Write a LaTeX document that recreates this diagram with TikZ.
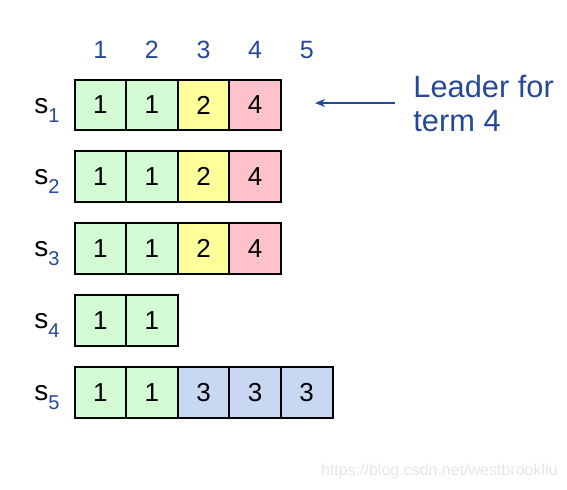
\documentclass[tikz,border=0pt]{standalone}
\usepackage{fontspec}
\setmainfont{Liberation Sans}
\usetikzlibrary{arrows.meta,positioning}
\definecolor{fGreen}{RGB}{212,252,212}
\definecolor{fYellow}{RGB}{255,255,153}
\definecolor{fPink}{RGB}{255,194,204}
\definecolor{fBlue}{RGB}{201,216,242}
\definecolor{dBlue}{RGB}{38,72,152}
\begin{document}
\begin{tikzpicture}[x=0.5pt,y=-0.5pt,
  cell/.style={draw,line width=1pt,minimum width=25.8pt,minimum height=25.4pt,inner sep=0pt,outer sep=0pt,font=\fontsize{13}{13}\selectfont},
  hd/.style={text=dBlue,font=\fontsize{12.5}{12.5}\selectfont},
  lbl/.style={anchor=base east,inner sep=0pt},
  ar/.style={-{Stealth[length=5pt,width=4pt]},line width=1pt,dBlue}]
\useasboundingbox (0,0) rectangle (567,489);
% term numbers
\foreach \c in {1,...,5}
  \node[hd] (h\c) at ({100.3+51.6*(\c-1)},50) {\c};
% servers and their logs
\foreach \r/\cells in {1/{fGreen/1,fGreen/1,fYellow/2,fPink/4},
                       2/{fGreen/1,fGreen/1,fYellow/2,fPink/4},
                       3/{fGreen/1,fGreen/1,fYellow/2,fPink/4},
                       4/{fGreen/1,fGreen/1},
                       5/{fGreen/1,fGreen/1,fBlue/3,fBlue/3,fBlue/3}}{
  \node[lbl] (s\r) at (60,{113+71.8*(\r-1)}) {{\fontsize{14}{14}\selectfont s}\raisebox{-4.5pt}{\color{dBlue}\fontsize{10}{10}\selectfont\r}};
  \foreach \f/\v [count=\c] in \cells
    \node[cell,fill=\f] (c\r\c) at ({100.3+51.6*(\c-1)},{105+71.8*(\r-1)}) {\v};
}
% leader note
\node[anchor=west,align=left,text=dBlue,font=\fontsize{15.4}{17}\selectfont,inner sep=0pt] (ldr) at (413,103) {Leader for\\term 4};
\coordinate (tip) at (315,103);
\draw[ar,shorten <=9pt] (ldr.west) -- (tip);
\node[anchor=east,text=black!10,font=\fontsize{8}{8}\selectfont,inner sep=0pt] (wm) at (558,471) {https://blog.csdn.net/westbrookliu};
\end{tikzpicture}
\end{document}
